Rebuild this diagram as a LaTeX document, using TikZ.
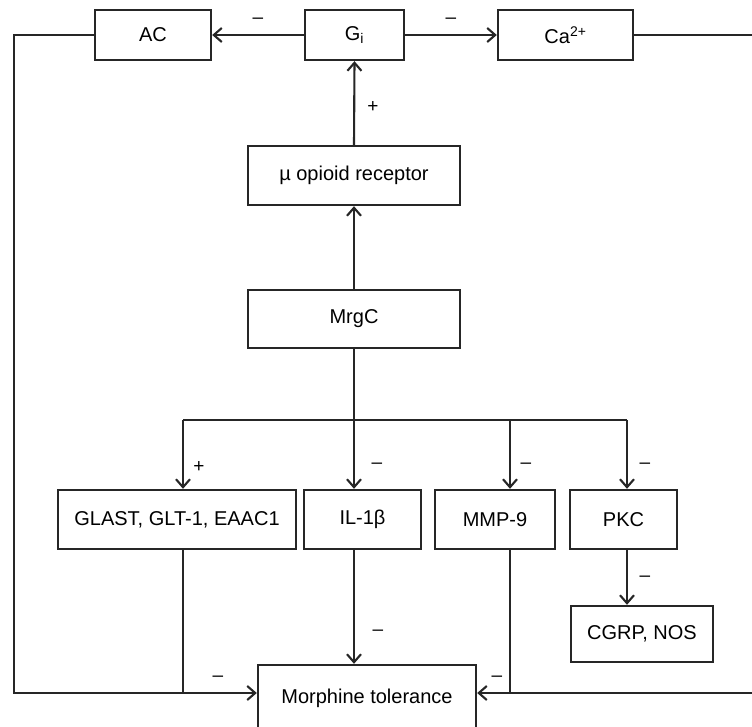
\documentclass[tikz,border=0pt]{standalone}
\usepackage{fontspec}
\setmainfont{Liberation Sans}
\usetikzlibrary{arrows.meta}
\begin{document}
\begin{tikzpicture}[x=1pt,y=-1pt,
  box/.style={draw=black!85,line width=2.4pt,minimum width=#1,inner sep=0pt,font=\fontsize{20}{23}\selectfont},
  ln/.style={draw=black!85,line width=2.1pt},
  arr/.style={ln,-{Straight Barb[length=8pt,width=14pt,line width=2.1pt]}},
  sg/.style={font=\fontsize{19}{22}\selectfont,inner sep=0pt}]
\clip (0,0) rectangle (752,727);
\fill[white] (0,0) rectangle (752,727);
% boxes
\node[box=116pt,minimum height=50pt] (AC) at (153,35) {AC};
\node[box=99pt,minimum height=50pt] (Gi) at (354.5,35) {G\textsubscript{i}};
\node[box=135pt,minimum height=50pt] (Ca) at (565.5,35) {Ca\textsuperscript{2+}};
\node[box=212pt,minimum height=59pt] (MOR) at (354,175.5) {µ opioid receptor};
\node[box=212pt,minimum height=58pt] (MrgC) at (354,319) {MrgC};
\node[box=238pt,minimum height=59pt] (GL) at (177,519.5) {GLAST, GLT-1, EAAC1};
\node[box=117pt,minimum height=59pt] (IL) at (362.5,519.5) {IL-1β};
\node[box=120pt,minimum height=59pt] (MMP) at (495,519.5) {MMP-9};
\node[box=107pt,minimum height=59pt] (PKC) at (623.5,519.5) {PKC};
\node[box=142pt,minimum height=56pt] (CG) at (642,634) {CGRP, NOS};
\node[box=218pt,minimum height=66pt] (MT) at (367,698) {Morphine tolerance};
% coordinates
\coordinate (L1) at (14,35);
\coordinate (L2) at (14,693);
\coordinate (R1) at (770,35);
\coordinate (R2) at (770,693);
\coordinate (BL) at (183,420);
\coordinate (BM) at (510,420);
\coordinate (BR) at (627,420);
\coordinate (GLb) at (183,693);
\coordinate (MMb) at (510,693);
% connectors
\draw[arr] (Gi.west) -- (AC.east);
\draw[arr] (Gi.east) -- (Ca.west);
\draw[arr] (MOR.north) -- (Gi.south);
\draw[arr] (MrgC.north) -- (MOR.south);
\draw[arr] (MrgC.south) -- (MrgC.south |- IL.north);
\draw[ln] (BL) -- (BR);
\draw[arr] (BL) -- (BL |- GL.north);
\draw[arr] (BM) -- (BM |- MMP.north);
\draw[arr] (BR) -- (BR |- PKC.north);
\draw[arr] (BR |- PKC.south) -- (BR |- CG.north);
\draw[arr] (MrgC.south |- IL.south) -- (MrgC.south |- MT.north);
\draw[arr] (AC.west) -- (L1) -- (L2) -- (L2 -| MT.west);
\draw[arr] (Ca.east) -- (R1) -- (R2) -- (R2 -| MT.east);
\draw[ln] (BL |- GL.south) -- (GLb);
\draw[ln] (BM |- MMP.south) -- (MMb);
% signs
\node[sg] (s1) at (258,21) {–};
\node[sg] (s2) at (451,21) {–};
\node[sg] (s3) at (373,107) {+};
\node[sg] (s4) at (199,467) {+};
\node[sg] (s5) at (377,466) {–};
\node[sg] (s6) at (526,466) {–};
\node[sg] (s7) at (645,466) {–};
\node[sg] (s8) at (645,579) {–};
\node[sg] (s9) at (378,633) {–};
\node[sg] (s10) at (218,679) {–};
\node[sg] (s11) at (497,679) {–};
\end{tikzpicture}
\end{document}
